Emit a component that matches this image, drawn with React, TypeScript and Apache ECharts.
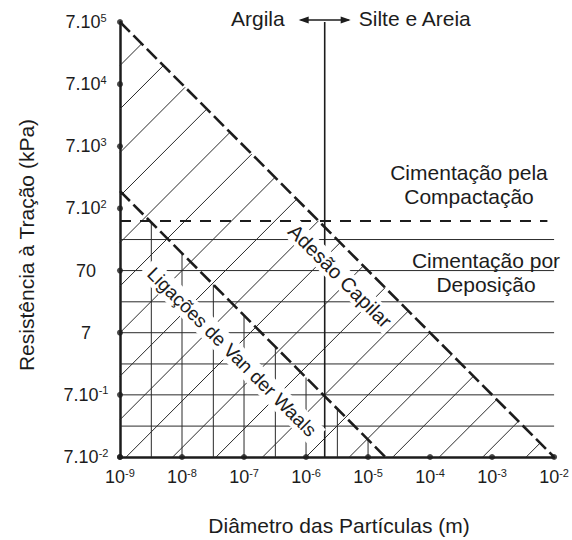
import React, { useEffect, useRef } from "react";
import * as echarts from "echarts";

// ---- data (diameter in m, tensile strength in kPa) ----
const xTickExponents = [-9, -8, -7, -6, -5, -4, -3, -2]; // 10^n m
const yTickExponents = [-2, -1, 0, 1, 2, 3, 4, 5]; // 7·10^n kPa
const adhesionUpperBoundary: [number, number][] = [
  [1e-9, 7e5],
  [1e-2, 7e-2],
];
const vanDerWaalsBoundary: [number, number][] = [
  [1e-9, 1330],
  [1.9e-5, 7e-2],
];
const compactionBoundary: [number, number][] = [
  [1e-9, 440],
  [7.8e-3, 440],
];
const claySiltBoundary = 2e-6; // m
const depositionLevels = [221, 70, 22, 7, 2.2, 0.7, 0.22]; // kPa
const vanDerWaalsVerticals = [3.2e-9, 1e-8, 3.2e-8, 1e-7, 3.2e-7, 1e-6, 3.2e-6, 1e-5]; // m
// diagonal hatch lines: log10(d) - log10(R/7)
const hatchOffsets = [
  -13.3, -12.6, -11.9, -11.2, -10.45, -9.75, -9.0, -8.3, -7.6, -6.9, -6.15, -5.45, -4.7, -4.0,
  -3.3, -2.6, -1.85, -1.15, -0.45,
];

const FONT = "'Liberation Sans', Arial, Helvetica, sans-serif";
const INK = "#1c1c1c";

const lx = (d: number) => Math.log10(d);
const ly = (r: number) => Math.log10(r / 7);

export default function App() {
  const ref = useRef<HTMLDivElement>(null);

  useEffect(() => {
    const el = ref.current!;
    const chart = echarts.init(el, undefined, { renderer: "svg" });

    const X0 = -9;
    const X1 = -2;
    const Y0 = -2;
    const Y1 = 5;

    const seg = (pts: number[][], lineStyle: any, z = 2) => ({
      type: "line",
      data: pts,
      symbol: "none",
      silent: true,
      clip: false,
      z,
      lineStyle,
    });

    const toLog = (p: [number, number]) => [lx(p[0]), ly(p[1])];
    const up = adhesionUpperBoundary.map(toLog);
    const vdw = vanDerWaalsBoundary.map(toLog);
    const comp = compactionBoundary.map(toLog);
    const upperSum = up[0][0] + up[0][1];

    const thin = { color: "#2a2a2a", width: 1 };
    const series: any[] = [];

    // diagonal hatch
    hatchOffsets.forEach((c) => {
      const start = c + Y0 >= X0 ? [c + Y0, Y0] : [X0, X0 - c];
      const end = [(upperSum + c) / 2, (upperSum - c) / 2];
      series.push(seg([start, end], thin));
    });
    // horizontal hatch
    depositionLevels.forEach((r) => {
      series.push(seg([[X0, ly(r)], [X1, ly(r)]], thin));
    });
    // vertical hatch (Van der Waals zone)
    const vdwY = (x: number) => vdw[0][1] + ((x - vdw[0][0]) * (vdw[1][1] - vdw[0][1])) / (vdw[1][0] - vdw[0][0]);
    vanDerWaalsVerticals.forEach((d) => {
      const x = lx(d);
      series.push(seg([[x, Y0], [x, vdwY(x)]], thin));
    });
    // clay / silt boundary
    series.push(seg([[lx(claySiltBoundary), Y0], [lx(claySiltBoundary), Y1]], { color: INK, width: 1.6 }, 3));
    // compaction dashed
    series.push(seg(comp, { color: INK, width: 2, type: [11, 9] }, 4));
    // main dashed boundaries
    series.push(seg(up, { color: INK, width: 2.6, type: [14, 5] }, 4));
    series.push(seg(vdw, { color: INK, width: 2.6, type: [14, 5] }, 4));
    // tick dots
    series.push({
      type: "scatter",
      silent: true,
      clip: false,
      z: 10,
      symbolSize: 6,
      itemStyle: { color: INK },
      data: xTickExponents.map((x) => [x, Y0]).concat(yTickExponents.map((y) => [X0, y])),
    });

    const rich = {
      b: { fontSize: 18, fontFamily: FONT, color: INK, lineHeight: 20 },
      s: { fontSize: 11, fontFamily: FONT, color: INK, verticalAlign: "top", lineHeight: 12 },
    };

    chart.setOption({
      animation: false,
      backgroundColor: "#fff",
      grid: { left: 120, top: 22, width: 435, height: 435 },
      xAxis: {
        type: "value",
        min: X0,
        max: X1,
        interval: 1,
        axisLine: { onZero: false, lineStyle: { color: INK, width: 2.5 } },
        axisTick: { show: false },
        splitLine: { show: false },
        axisLabel: {
          margin: 10,
          fontSize: 18,
          fontFamily: FONT,
          color: INK,
          formatter: (v: number) => `{b|10}{s|${v}}`,
          rich,
        },
      },
      yAxis: {
        type: "value",
        min: Y0,
        max: Y1,
        interval: 1,
        axisLine: { onZero: false, lineStyle: { color: INK, width: 2.5 } },
        axisTick: { show: false },
        splitLine: { show: false },
        axisLabel: {
          margin: 34,
          align: "center",
          fontSize: 18,
          fontFamily: FONT,
          color: INK,
          formatter: (v: number) => (v === 1 ? "{b|70}" : v === 0 ? "{b|7}" : `{b|7.10}{s|${v}}`),
          rich,
        },
      },
      series,
    });

    const [bx, by] = chart.convertToPixel({ gridIndex: 0 } as any, [lx(claySiltBoundary), Y1]) as number[];
    const ay = by - 2;
    const txt = (text: string, x: number, y: number, size: number, extra: any = {}, rot = 0) => ({
      type: "text",
      x,
      y,
      rotation: rot,
      z: 100,
      style: {
        text,
        font: `${size}px ${FONT}`,
        fill: INK,
        textAlign: "center",
        textVerticalAlign: "middle",
        ...extra,
      },
    });

    chart.setOption({
      graphic: [
        { type: "line", z: 100, shape: { x1: bx - 24, y1: ay, x2: bx + 24, y2: ay }, style: { stroke: INK, lineWidth: 1.4 } },
        {
          type: "polygon",
          z: 100,
          shape: { points: [[bx - 26, ay], [bx - 16, ay - 3.5], [bx - 16, ay + 3.5]] },
          style: { fill: INK },
        },
        {
          type: "polygon",
          z: 100,
          shape: { points: [[bx + 26, ay], [bx + 16, ay - 3.5], [bx + 16, ay + 3.5]] },
          style: { fill: INK },
        },
        txt("Argila", bx - 40, 18, 21, { textAlign: "right" }),
        txt("Silte e Areia", bx + 34, 18, 21, { textAlign: "left" }),
        txt("Cimentação pela\nCompactação", 469, 184.5, 21, { lineHeight: 24 }),
        txt("Cimentação por\nDeposição", 486, 272, 21, { lineHeight: 24 }),
        txt("Adesão Capilar", 340, 276, 20, { backgroundColor: "#fff", padding: [1, 4] }, -Math.PI / 4),
        txt("Ligações de Van der Waals", 232, 352, 19, { backgroundColor: "#fff", padding: [2, 6] }, -Math.PI / 4),
        txt("Resistência à Tração (kPa)", 26, 245, 21, {}, Math.PI / 2),
        txt("Diâmetro das Partículas (m)", 339, 525, 21),
      ],
    });

    return () => chart.dispose();
  }, []);

  return (
    <div
      ref={ref}
      style={{ position: "absolute", left: 0, top: 0, width: 572, height: 540, background: "#fff" }}
    />
  );
}
